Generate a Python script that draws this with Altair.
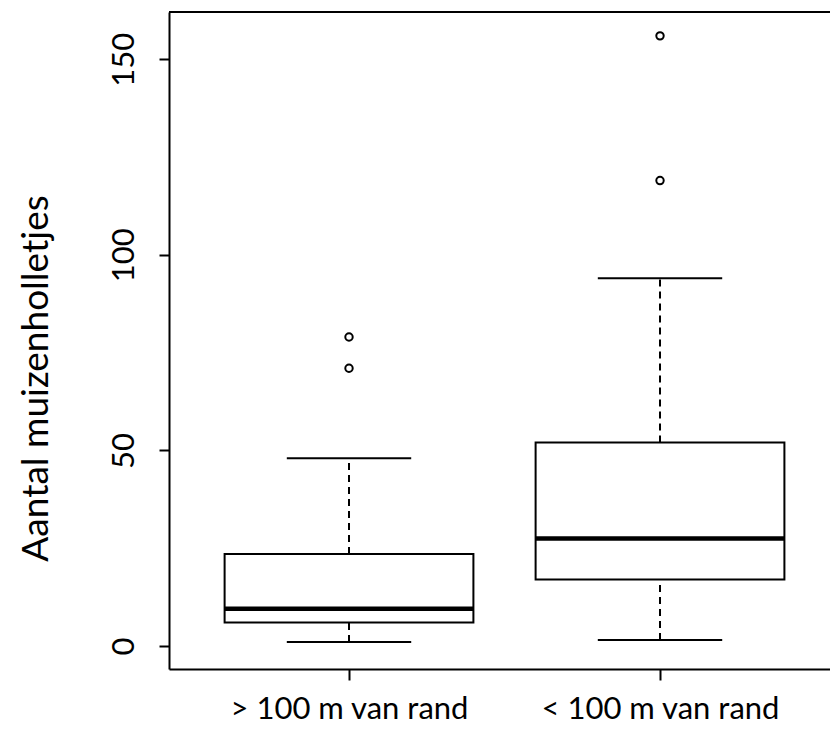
import altair as alt
import pandas as pd

# Group labels and five-number summaries (counts of mouse holes)
groups = ["> 100 m van rand", "< 100 m van rand"]
whisker_low = [1, 1.5]
q1 = [6, 17]
median = [9.5, 27.5]
q3 = [23.5, 52]
whisker_high = [48, 94]

# Points beyond the whiskers
outlier_group = ["> 100 m van rand", "> 100 m van rand", "< 100 m van rand", "< 100 m van rand"]
outlier_value = [71, 79, 119, 156]

y_ticks = [0, 50, 100, 150]

W, H = 661, 657

boxes = pd.DataFrame({
    "group": groups,
    "pos": [i + 1 for i in range(len(groups))],
    "low": whisker_low,
    "q1": q1,
    "median": median,
    "q3": q3,
    "high": whisker_high,
})
outliers = pd.DataFrame({
    "group": outlier_group,
    "pos": [groups.index(g) + 1 for g in outlier_group],
    "value": outlier_value,
})

label_expr = " : ".join(
    f"datum.value == {i + 1} ? '{g}'" for i, g in enumerate(groups[:-1])
) + f" : '{groups[-1]}'"

x_scale = alt.Scale(domain=[0.4212, 2.5466], nice=False, zero=False)
y_scale = alt.Scale(domain=[-5.9, 162.1], nice=False, zero=False)

x_axis = alt.Axis(
    values=[i + 1 for i in range(len(groups))], labelExpr=label_expr, title="",
    grid=False, tickSize=11, labelPadding=38, labelBaseline="alphabetic",
    labelFontSize=31, labelFlush=False, labelOverlap=False, labelLimit=600,
)
y_axis = alt.Axis(
    values=y_ticks, title="Aantal muizenholletjes", grid=False, tickSize=10,
    labelAngle=270, labelAlign="center", labelBaseline="alphabetic",
    labelPadding=26, labelFontSize=31, labelLimit=600,
    titleFontSize=37, titleFontWeight="normal", titleAngle=270,
    titleAlign="center", titleBaseline="alphabetic", titleX=-122, titleY=366,
    titleLimit=800,
)

base = alt.Chart(boxes).transform_calculate(
    left="datum.pos - 0.4", right="datum.pos + 0.4",
    cap_l="datum.pos - 0.2", cap_r="datum.pos + 0.2",
)

dash = [7, 5]

upper_whisker = base.mark_rule(color="black", strokeWidth=2, strokeDash=dash).encode(
    x=alt.X("pos:Q", scale=x_scale, axis=x_axis),
    y=alt.Y("q3:Q", scale=y_scale, axis=y_axis),
    y2="high:Q",
)
lower_whisker = base.mark_rule(color="black", strokeWidth=2, strokeDash=dash).encode(
    x=alt.X("pos:Q", scale=x_scale, axis=x_axis),
    y=alt.Y("low:Q", scale=y_scale, axis=y_axis),
    y2="q1:Q",
)
box = base.mark_rect(fill="white", stroke="black", strokeWidth=2).encode(
    x=alt.X("left:Q", scale=x_scale, axis=x_axis),
    x2="right:Q",
    y=alt.Y("q1:Q", scale=y_scale, axis=y_axis),
    y2="q3:Q",
)
med = base.mark_rule(color="black", strokeWidth=4.5).encode(
    x=alt.X("left:Q", scale=x_scale, axis=x_axis),
    x2="right:Q",
    y=alt.Y("median:Q", scale=y_scale, axis=y_axis),
)
cap_high = base.mark_rule(color="black", strokeWidth=2).encode(
    x=alt.X("cap_l:Q", scale=x_scale, axis=x_axis),
    x2="cap_r:Q",
    y=alt.Y("high:Q", scale=y_scale, axis=y_axis),
)
cap_low = base.mark_rule(color="black", strokeWidth=2).encode(
    x=alt.X("cap_l:Q", scale=x_scale, axis=x_axis),
    x2="cap_r:Q",
    y=alt.Y("low:Q", scale=y_scale, axis=y_axis),
)
points = alt.Chart(outliers).mark_point(
    shape="circle", filled=False, color="black", strokeWidth=2, size=55, opacity=1
).encode(
    x=alt.X("pos:Q", scale=x_scale, axis=x_axis),
    y=alt.Y("value:Q", scale=y_scale, axis=y_axis),
)

# top edge of the plot frame
top_edge = alt.Chart(boxes).mark_rule(color="black", strokeWidth=2).encode(
    x=alt.value(0), x2=alt.value(W), y=alt.value(0)
)

chart = alt.layer(
    upper_whisker, lower_whisker, box, med, cap_high, cap_low, points, top_edge
).properties(
    width=W, height=H,
    padding={"left": 169, "top": 12, "right": 0, "bottom": 66},
    autosize=alt.AutoSizeParams(type="none"),
    background="white",
).configure_view(
    stroke=None
).configure_axis(
    domainColor="black", domainWidth=2, tickColor="black", tickWidth=2,
    labelColor="black", titleColor="black", labelFont="Lato", titleFont="Lato",
)

chart.save("out.html", embed_options={"renderer": "svg", "actions": False})
